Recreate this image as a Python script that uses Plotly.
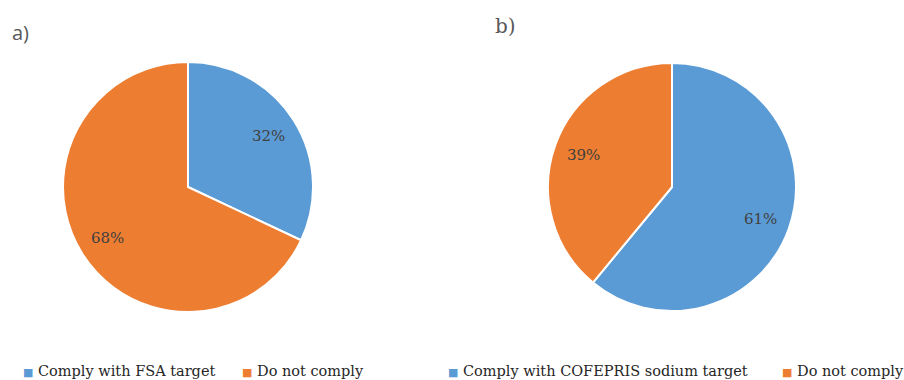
import math
import plotly.graph_objects as go

labels_a = ["Comply with FSA target", "Do not comply"]
values_a = [32, 68]
labels_b = ["Comply with COFEPRIS sodium target", "Do not comply"]
values_b = [61, 39]
colors = ["#5B9BD5", "#ED7D31"]
panel_titles = ["a)", "b)"]

W, H = 904, 380
SERIF = "DejaVu Serif"

fig = go.Figure()

# visual pie geometry (px): centre x, centre y, radius; legend entry x positions
pies = [
    dict(labels=labels_a, values=values_a, cx=188, cy=187, r=125, leg_x=[21, 240]),
    dict(labels=labels_b, values=values_b, cx=672, cy=187, r=124, leg_x=[446, 780]),
]

def px2x(px):
    return px / W

def py2y(py):
    return (H - py) / H

for p in pies:
    rs = p["r"]
    cys = p["cy"]
    fig.add_trace(go.Pie(
        labels=p["labels"], values=p["values"], sort=False, direction="clockwise",
        rotation=0, textinfo="none", hoverinfo="label+percent", showlegend=False,
        marker=dict(colors=colors, line=dict(color="white", width=2)),
        domain=dict(x=[px2x(p["cx"] - rs), px2x(p["cx"] + rs)],
                    y=[py2y(cys + rs), py2y(cys - rs)]),
    ))
    total = sum(p["values"])
    cum = 0
    for v in p["values"]:
        mid = (cum + v / 2) / total * 2 * math.pi
        cum += v
        d = 0.76 * p["r"]
        fig.add_annotation(
            x=px2x(p["cx"] + d * math.sin(mid)), y=py2y(p["cy"] - d * math.cos(mid)),
            xref="paper", yref="paper", xanchor="center", yanchor="middle",
            text=f"{round(v / total * 100)}%", showarrow=False,
            font=dict(family=SERIF, size=15, color="#404040"),
        )
    # legend entries
    for lab, col, lx in zip(p["labels"], colors, p["leg_x"]):
        fig.add_annotation(
            x=px2x(lx), y=py2y(371), xref="paper", yref="paper",
            xanchor="left", yanchor="middle", showarrow=False,
            text=f"<span style='color:{col};font-size:11px'>■</span> {lab}",
            font=dict(family=SERIF, size=14.5, color="#262626"),
        )

fig.add_annotation(x=px2x(10), y=py2y(32), xref="paper", yref="paper",
                   text=panel_titles[0], showarrow=False, xanchor="left", yanchor="middle",
                   font=dict(family="Open Sans", size=20, color="#595959"))
fig.add_annotation(x=px2x(493), y=py2y(26), xref="paper", yref="paper",
                   text=panel_titles[1], showarrow=False, xanchor="left", yanchor="middle",
                   font=dict(family=SERIF, size=20, color="#595959"))

fig.update_layout(
    width=W, height=H, margin=dict(l=0, r=0, t=0, b=0),
    paper_bgcolor="white", plot_bgcolor="white", showlegend=False,
)

fig.write_html("out.html")
